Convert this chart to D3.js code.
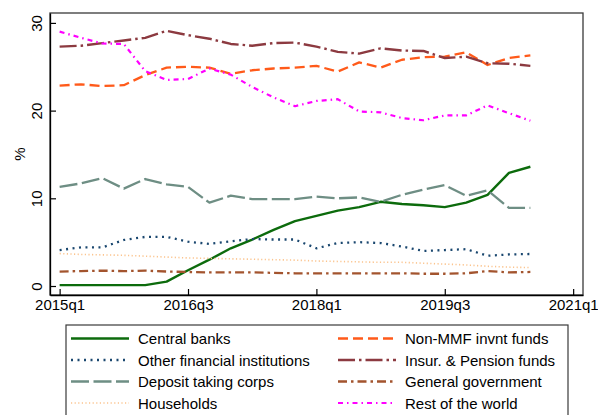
<!DOCTYPE html>
<html>
<head>
<meta charset="utf-8">
<script src="https://cdn.jsdelivr.net/npm/d3@7"></script>
<style>
  html, body { margin: 0; padding: 0; background: #fff; }
  svg { display: block; font-family: "Liberation Sans", Arial, sans-serif; }
</style>
</head>
<body>
<div id="chart"></div>
<script>
// ---- data ----
const quarters = ["2015q1","2015q2","2015q3","2015q4","2016q1","2016q2","2016q3","2016q4",
  "2017q1","2017q2","2017q3","2017q4","2018q1","2018q2","2018q3","2018q4",
  "2019q1","2019q2","2019q3","2019q4","2020q1","2020q2","2020q3"];
const xTickLabels = ["2015q1","2016q3","2018q1","2019q3","2021q1"];
const xTickIndex = [0, 6, 12, 18, 24];
const yTicks = [0, 10, 20, 30];

const centralBanks = [0.1,0.1,0.1,0.1,0.1,0.5,1.8,3.0,4.3,5.3,6.4,7.4,8.0,8.6,9.0,9.6,9.35,9.2,9.0,9.5,10.4,12.9,13.6];
const otherFinancial = [4.1,4.4,4.4,5.25,5.6,5.6,5.05,4.8,5.1,5.35,5.3,5.3,4.3,4.9,5.0,4.9,4.5,4.0,4.1,4.2,3.45,3.6,3.65];
const depositTaking = [11.3,11.7,12.3,11.1,12.2,11.6,11.3,9.5,10.3,9.9,9.9,9.9,10.2,10.0,10.1,9.6,10.4,11.0,11.5,10.3,10.9,8.9,8.9];
const households = [3.7,3.6,3.55,3.5,3.4,3.3,3.2,3.15,3.1,3.05,3.0,2.95,2.85,2.8,2.75,2.7,2.7,2.6,2.5,2.4,2.25,2.15,2.1];
const nonMMF = [22.85,23.0,22.8,22.9,24.05,24.9,25.0,24.9,24.2,24.6,24.8,24.9,25.1,24.45,25.5,24.9,25.8,26.1,26.15,26.65,25.2,26.0,26.3];
const insurPension = [27.3,27.4,27.7,28.0,28.3,29.1,28.6,28.2,27.6,27.4,27.7,27.75,27.3,26.7,26.5,27.1,26.85,26.8,26.0,26.15,25.4,25.35,25.1];
const generalGov = [1.65,1.7,1.75,1.7,1.75,1.65,1.6,1.55,1.55,1.55,1.5,1.45,1.45,1.45,1.45,1.45,1.45,1.4,1.4,1.45,1.7,1.55,1.6];
const restOfWorld = [29.0,28.3,27.65,27.6,24.5,23.5,23.6,24.8,24.1,22.7,21.5,20.5,21.1,21.3,19.9,19.8,19.15,18.9,19.45,19.45,20.6,19.7,18.85];

const seriesNames = ["Central banks","Other financial institutions","Deposit taking corps","Households",
  "Non-MMF invnt funds","Insur. & Pension funds","General government","Rest of the world"];
const seriesValues = [centralBanks, otherFinancial, depositTaking, households, nonMMF, insurPension, generalGov, restOfWorld];
const seriesColors = ["#0c6b0c","#1a476f","#6e8e84","#fbc48e","#ff5a1a","#8c3a40","#a3542e","#ff00ff"];
const seriesDash = ["none","2,4.5","18,4.5","1.2,2.4","10,5","17,4,2.5,4","9,4,2.5,4","5,4,1.5,4"];
const seriesWidth = [2.4,2.3,2.3,1.6,2.3,2.4,2.3,2.2];

// ---- layout ----
const W = 598, H = 415;
const plot = {left: 50, right: 583, top: 13, bottom: 295};

const svg = d3.select("#chart").append("svg").attr("width", W).attr("height", H);

const x = d3.scaleLinear().domain([-0.45, 24.46]).range([plot.left, plot.right]);
const y = d3.scaleLinear().domain([-1.026, 31.13]).range([plot.bottom, plot.top]);

// plot frame
svg.append("rect")
  .attr("x", plot.left).attr("y", plot.top)
  .attr("width", plot.right - plot.left).attr("height", plot.bottom - plot.top)
  .attr("fill", "none").attr("stroke", "#3a3a3a").attr("stroke-width", 1.3);

// series
const line = d3.line().x((d, i) => x(i)).y(d => y(d));
const gLines = svg.append("g");
seriesValues.forEach((vals, k) => {
  gLines.append("path")
    .attr("d", line(vals))
    .attr("fill", "none")
    .attr("stroke", seriesColors[k])
    .attr("stroke-width", seriesWidth[k])
    .attr("stroke-dasharray", seriesDash[k])
    .attr("stroke-linejoin", "round")
    .attr("stroke-linecap", seriesDash[k] === "2,4.5" ? "butt" : "butt");
});

// x axis
const xAxis = d3.axisBottom(x)
  .tickValues(xTickIndex)
  .tickFormat((d, i) => xTickLabels[i])
  .tickSizeInner(-6).tickSizeOuter(0).tickPadding(0);
const gx = svg.append("g").attr("transform", `translate(0,${plot.bottom})`).call(xAxis);
gx.select(".domain").attr("stroke", "#000").attr("stroke-width", 1.3);
gx.selectAll(".tick line").attr("stroke", "#000").attr("stroke-width", 1.2);
gx.selectAll(".tick text")
  .attr("y", 15).attr("dy", null)
  .attr("font-size", 15).attr("fill", "#000")
  .attr("font-family", '"Liberation Sans", Arial, sans-serif');

// y axis
const yAxis = d3.axisLeft(y)
  .tickValues(yTicks)
  .tickSizeInner(-6).tickSizeOuter(0);
const gy = svg.append("g").attr("transform", `translate(${plot.left},0)`).call(yAxis);
gy.select(".domain").attr("stroke", "#000").attr("stroke-width", 1.3);
gy.selectAll(".tick line").attr("stroke", "#000").attr("stroke-width", 1.2);
gy.selectAll(".tick text")
  .attr("x", null).attr("dy", null)
  .attr("transform", "translate(-8,0) rotate(-90)")
  .attr("text-anchor", "middle")
  .attr("font-size", 15).attr("fill", "#000")
  .attr("font-family", '"Liberation Sans", Arial, sans-serif');

// y title
svg.append("text")
  .attr("transform", `translate(25,${(plot.top + plot.bottom) / 2}) rotate(-90)`)
  .attr("text-anchor", "middle")
  .attr("font-size", 15)
  .text("%");

// legend
const leg = svg.append("g");
leg.append("rect")
  .attr("x", 66).attr("y", 325).attr("width", 502).attr("height", 110)
  .attr("fill", "#fff").attr("stroke", "#3a3a3a").attr("stroke-width", 1.2);
const rowY = [338.5, 360, 381.5, 403];
const colX = [71, 338];
seriesNames.forEach((name, k) => {
  const col = Math.floor(k / 4), row = k % 4;
  const lx = colX[col], ly = rowY[row];
  leg.append("line")
    .attr("x1", lx).attr("x2", lx + 58)
    .attr("y1", ly).attr("y2", ly)
    .attr("stroke", seriesColors[k])
    .attr("stroke-width", seriesWidth[k])
    .attr("stroke-dasharray", seriesDash[k]);
  leg.append("text")
    .attr("x", lx + 67).attr("y", ly + 5.5)
    .attr("font-size", 15)
    .text(name);
});
</script>
</body>
</html>
